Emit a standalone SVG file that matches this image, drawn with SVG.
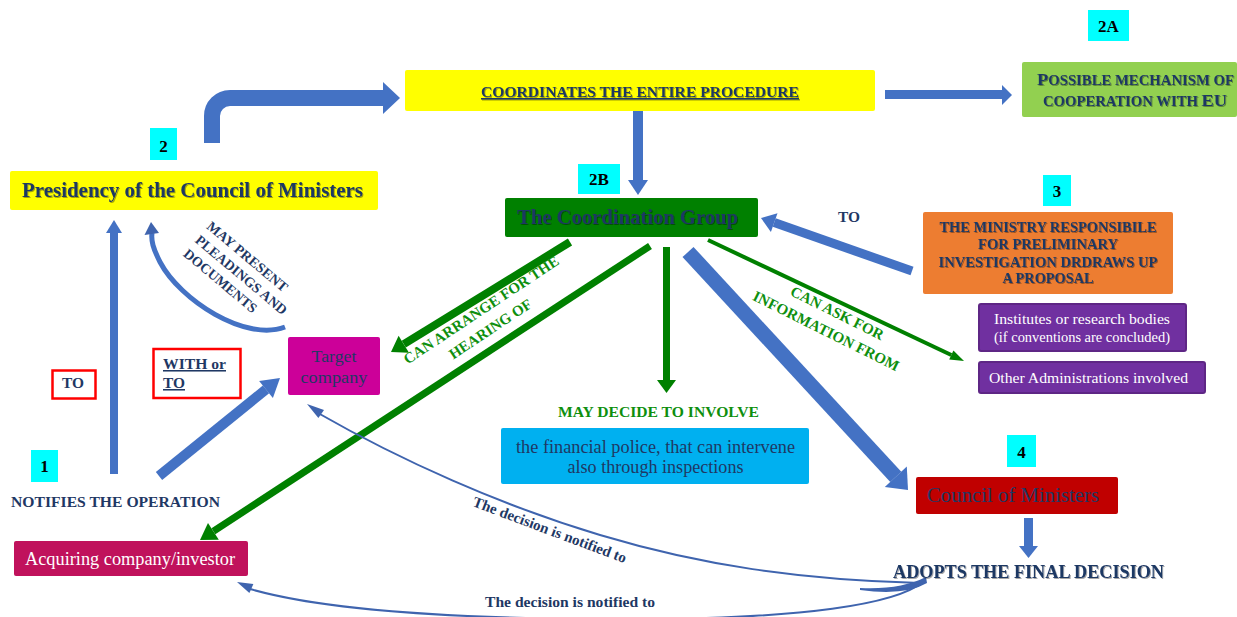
<svg xmlns="http://www.w3.org/2000/svg" width="1237" height="617" viewBox="0 0 1237 617">
<defs>
<style>
text{font-family:"Liberation Serif","Times New Roman",serif;}
.b{font-weight:bold;}
.nv{fill:#1F3864;}
.gt{fill:#0E8F0E;font-weight:bold;}
.wh{fill:#FFFFFF;}
.num{fill:#000;font-weight:bold;font-size:17px;text-anchor:middle;}
.cy{fill:#00FFFF;}
.bf{fill:#4472C4;}
.bs{stroke:#4472C4;fill:none;}
.gf{fill:#008000;}
.gs{stroke:#008000;fill:none;}
.cs{stroke:#3F64AE;fill:none;stroke-width:2;}
.cf{fill:#3F64AE;}
.ul{text-decoration:underline;}
.red{fill:#FFFFFF;stroke:#FF0000;stroke-width:2.5;}
</style>
<filter id="sh" x="-5%" y="-30%" width="110%" height="160%">
<feDropShadow dx="1" dy="1" stdDeviation="0.6" flood-color="#000000" flood-opacity="0.35"/>
</filter>
</defs>
<rect width="1237" height="617" fill="#FFFFFF"/>

<g id="connectors">
<!-- 1 -> Presidency (TO) -->
<rect class="bf" x="110" y="232" width="8" height="242"/>
<polygon class="bf" points="106,233 122,233 114,220"/>
<!-- 1 -> Target (WITH or TO) -->
<line class="bs" x1="159" y1="476" x2="266" y2="389.4" stroke-width="10"/>
<polygon class="bf" points="272.9,397.9 259.1,380.9 280,378"/>
<!-- Presidency -> Coordinates (elbow) -->
<path class="bs" d="M212,143 V116 A18,18 0 0 1 230,98 H384" stroke-width="16"/>
<polygon class="bf" points="383,82 383,114 400,98"/>
<!-- Coordinates -> EU -->
<rect class="bf" x="885" y="90" width="118" height="9"/>
<polygon class="bf" points="1002,85 1002,105 1012,95"/>
<!-- Coordinates -> Coordination group -->
<rect class="bf" x="633" y="110" width="10" height="71"/>
<polygon class="bf" points="628,180 648,180 638,195"/>
<!-- Ministry -> Coordination group (TO) -->
<line class="bs" x1="912" y1="271" x2="774.2" y2="222.6" stroke-width="9"/>
<polygon class="bf" points="777.5,213.2 770.9,232 761,218"/>
<!-- Coordination group -> Council -->
<line class="bs" x1="688" y1="252" x2="895.8" y2="476.8" stroke-width="15"/>
<polygon class="bf" points="906.8,466.6 884.8,487 908,490"/>
<!-- Council -> adopts -->
<rect class="bf" x="1024" y="518" width="9" height="29"/>
<polygon class="bf" points="1019,546 1038,546 1028.5,558"/>
<!-- green: hearing of target -->
<line class="gs" x1="570" y1="242" x2="403.8" y2="344.2" stroke-width="8"/>
<polygon class="gf" points="409,352.7 398.6,335.7 391,352"/>
<!-- green: hearing of acquiring -->
<line class="gs" x1="650" y1="246" x2="213.4" y2="531.3" stroke-width="7"/>
<polygon class="gf" points="218.8,539.7 208,522.9 200,540"/>
<!-- green: may decide to involve -->
<rect class="gf" x="663" y="247" width="7" height="134"/>
<polygon class="gf" points="657,380 676,380 666.5,393"/>
<!-- green: ask for information -->
<line class="gs" x1="708" y1="240" x2="951.3" y2="355" stroke-width="4"/>
<polygon class="gf" points="949.2,359.5 953.4,350.5 964,361"/>
<!-- pleadings curved arrow -->
<path class="bs" d="M285,327 C245,342 180,300 160,262 C153,248 151,241 152,233" stroke-width="5" stroke="#3F64AE"/>
<polygon class="cf" points="144.5,235 159,233 151,222"/>
<!-- decision notified to target -->
<path class="cs" d="M920,583 C800,580 700,565 600,535 C500,505 400,460 318,413"/>
<polygon class="cf" points="324,409.9 318.4,418.1 307,404"/>
<!-- decision notified to acquiring -->
<path class="cs" d="M923,582 C895,605 800,618 650,619 C480,620 330,612 250,589"/>
<polygon class="cf" points="253.4,583.9 249.4,592.9 237,582"/>
<path class="cf" d="M860,588 Q900,590 926,577 L927,583 Q905,596 860,590 Z"/>
</g>

<g id="presidency">
<rect x="10" y="171" width="368" height="39" rx="2" fill="#FFFF00"/>
<text x="22" y="197" class="b nv" font-size="21" textLength="341" lengthAdjust="spacingAndGlyphs" filter="url(#sh)">Presidency of the Council of Ministers</text>
</g>
<g id="badge-2">
<rect class="cy" x="150" y="128" width="27" height="32"/>
<text class="num" x="163.5" y="152">2</text>
</g>
<g id="coordinates">
<rect x="405" y="70" width="470" height="41" rx="2" fill="#FFFF00"/>
<text x="640" y="97" class="b nv ul" font-size="15.5" text-anchor="middle" textLength="318" lengthAdjust="spacingAndGlyphs" filter="url(#sh)">COORDINATES THE ENTIRE PROCEDURE</text>
</g>
<g id="badge-2A">
<rect class="cy" x="1088" y="10" width="41" height="31"/>
<text class="num" x="1108.5" y="32">2A</text>
</g>
<g id="eu">
<rect x="1022" y="62" width="215" height="55" rx="2" fill="#92D050"/>
<text x="1037" y="85" class="b nv" font-size="14" textLength="197" lengthAdjust="spacingAndGlyphs" filter="url(#sh)"><tspan font-size="17.5">P</tspan>OSSIBLE MECHANISM OF</text>
<text x="1043" y="106" class="b nv" font-size="14" textLength="184" lengthAdjust="spacingAndGlyphs" filter="url(#sh)">COOPERATION WITH <tspan font-size="17.5">EU</tspan></text>
</g>
<g id="badge-2B">
<rect class="cy" x="578" y="164" width="42" height="30"/>
<text class="num" x="599" y="185">2B</text>
</g>
<g id="coordination-group">
<rect x="505" y="198" width="253" height="39" rx="2" fill="#008000"/>
<text x="517" y="224" class="b nv" font-size="20.5" textLength="221" lengthAdjust="spacingAndGlyphs" filter="url(#sh)">The Coordination Group</text>
</g>
<g id="badge-3">
<rect class="cy" x="1043" y="175" width="28" height="31"/>
<text class="num" x="1057" y="197">3</text>
</g>
<g id="ministry">
<rect x="923" y="212" width="250" height="82" rx="2" fill="#ED7D31"/>
<g class="b nv" font-size="14.5" text-anchor="middle" filter="url(#sh)">
<text x="1048" y="232" textLength="217" lengthAdjust="spacingAndGlyphs">THE MINISTRY RESPONSIBILE</text>
<text x="1048" y="249" textLength="140" lengthAdjust="spacingAndGlyphs">FOR PRELIMINARY</text>
<text x="1048" y="267" textLength="219" lengthAdjust="spacingAndGlyphs">INVESTIGATION DRDRAWS UP</text>
<text x="1048" y="283" textLength="91" lengthAdjust="spacingAndGlyphs">A PROPOSAL</text>
</g>
</g>
<g id="institutes">
<rect x="979" y="304" width="207" height="47" rx="2" fill="#7030A0" stroke="#5E2685" stroke-width="2"/>
<text x="1082" y="324" class="wh" font-size="15.5" text-anchor="middle" textLength="176" lengthAdjust="spacingAndGlyphs">Institutes or research bodies</text>
<text x="1082" y="342" class="wh" font-size="15.5" text-anchor="middle" textLength="176" lengthAdjust="spacingAndGlyphs">(if conventions are concluded)</text>
</g>
<g id="other-administrations">
<rect x="979" y="362" width="226" height="31" rx="2" fill="#7030A0" stroke="#5E2685" stroke-width="2"/>
<text x="989" y="383" class="wh" font-size="15.5" textLength="199" lengthAdjust="spacingAndGlyphs">Other Administrations involved</text>
</g>
<g id="badge-4">
<rect class="cy" x="1007" y="435" width="29" height="32"/>
<text class="num" x="1021.5" y="458">4</text>
</g>
<g id="council">
<rect x="916" y="477" width="202" height="37" rx="2" fill="#C00000"/>
<text x="927" y="502" class="nv" font-size="20.5" textLength="172" lengthAdjust="spacingAndGlyphs">Council of Ministers</text>
</g>
<g id="adopts">
<text x="893" y="578" class="b nv" font-size="18" textLength="271" lengthAdjust="spacingAndGlyphs" filter="url(#sh)">ADOPTS THE FINAL DECISION</text>
</g>
<g id="financial-police">
<text x="558" y="417" class="gt" font-size="15" textLength="201" lengthAdjust="spacingAndGlyphs">MAY DECIDE TO INVOLVE</text>
<rect x="501" y="428" width="308" height="56" rx="2" fill="#00B0F0"/>
<text x="655.5" y="453" class="nv" font-size="18" text-anchor="middle" textLength="279" lengthAdjust="spacingAndGlyphs">the financial police, that can intervene</text>
<text x="655.5" y="473" class="nv" font-size="18" text-anchor="middle" textLength="176" lengthAdjust="spacingAndGlyphs">also through inspections</text>
</g>
<g id="target">
<rect x="288" y="337" width="92" height="58" rx="2" fill="#CC0099"/>
<text x="334" y="362" class="nv" font-size="17.5" text-anchor="middle" textLength="45" lengthAdjust="spacingAndGlyphs">Target</text>
<text x="334" y="383" class="nv" font-size="17.5" text-anchor="middle" textLength="67" lengthAdjust="spacingAndGlyphs">company</text>
</g>
<g id="acquiring">
<rect x="14" y="541" width="234" height="35" rx="2" fill="#C0125C"/>
<text x="25" y="565" class="wh" font-size="18" textLength="210" lengthAdjust="spacingAndGlyphs">Acquiring company/investor</text>
</g>
<g id="badge-1">
<rect class="cy" x="31" y="450" width="27" height="32"/>
<text class="num" x="44.5" y="472">1</text>
</g>
<g id="notifies">
<text x="11" y="507" class="b nv" font-size="15.5" textLength="209" lengthAdjust="spacingAndGlyphs">NOTIFIES THE OPERATION</text>
</g>
<g id="label-to-left">
<rect class="red" x="52.5" y="370.5" width="43" height="28"/>
<text x="62" y="388" class="b nv" font-size="15" textLength="22" lengthAdjust="spacingAndGlyphs">TO</text>
</g>
<g id="label-with-or-to">
<rect class="red" x="153.5" y="349" width="87" height="49"/>
<text x="163" y="369" class="b nv ul" font-size="15.5" textLength="63" lengthAdjust="spacingAndGlyphs">WITH or</text>
<text x="163" y="388" class="b nv ul" font-size="15.5" textLength="22" lengthAdjust="spacingAndGlyphs">TO</text>
</g>
<g id="label-to-ministry">
<text x="838" y="222" class="b nv" font-size="15" textLength="22" lengthAdjust="spacingAndGlyphs">TO</text>
</g>
<g id="label-pleadings" transform="translate(205.7,227.7) rotate(40)" class="b nv" font-size="14">
<text x="0" y="0" textLength="101" lengthAdjust="spacingAndGlyphs">MAY PRESENT</text>
<text x="0" y="18" textLength="115" lengthAdjust="spacingAndGlyphs">PLEADINGS AND</text>
<text x="0" y="36" textLength="91" lengthAdjust="spacingAndGlyphs">DOCUMENTS</text>
</g>
<g id="label-hearing" transform="translate(484,314) rotate(-33.6)" class="gt" font-size="15" text-anchor="middle">
<text x="0" y="0" textLength="183" lengthAdjust="spacingAndGlyphs">CAN ARRANGE FOR THE</text>
<text x="-3" y="21" textLength="96" lengthAdjust="spacingAndGlyphs">HEARING OF</text>
</g>
<g id="label-ask" transform="translate(835,317.5) rotate(26.5)" class="gt" font-size="15" text-anchor="middle">
<text x="0" y="0" textLength="102" lengthAdjust="spacingAndGlyphs">CAN ASK FOR</text>
<text x="-2" y="21" textLength="161" lengthAdjust="spacingAndGlyphs">INFORMATION FROM</text>
</g>
<g id="label-decision-target">
<text transform="translate(548,534.5) rotate(20.6)" x="0" y="0" class="b nv" font-size="15" text-anchor="middle" textLength="163" lengthAdjust="spacingAndGlyphs">The decision is notified to</text>
</g>
<g id="label-decision-acquiring">
<text x="485" y="607" class="b nv" font-size="15.5" textLength="170" lengthAdjust="spacingAndGlyphs">The decision is notified to</text>
</g>
</svg>
